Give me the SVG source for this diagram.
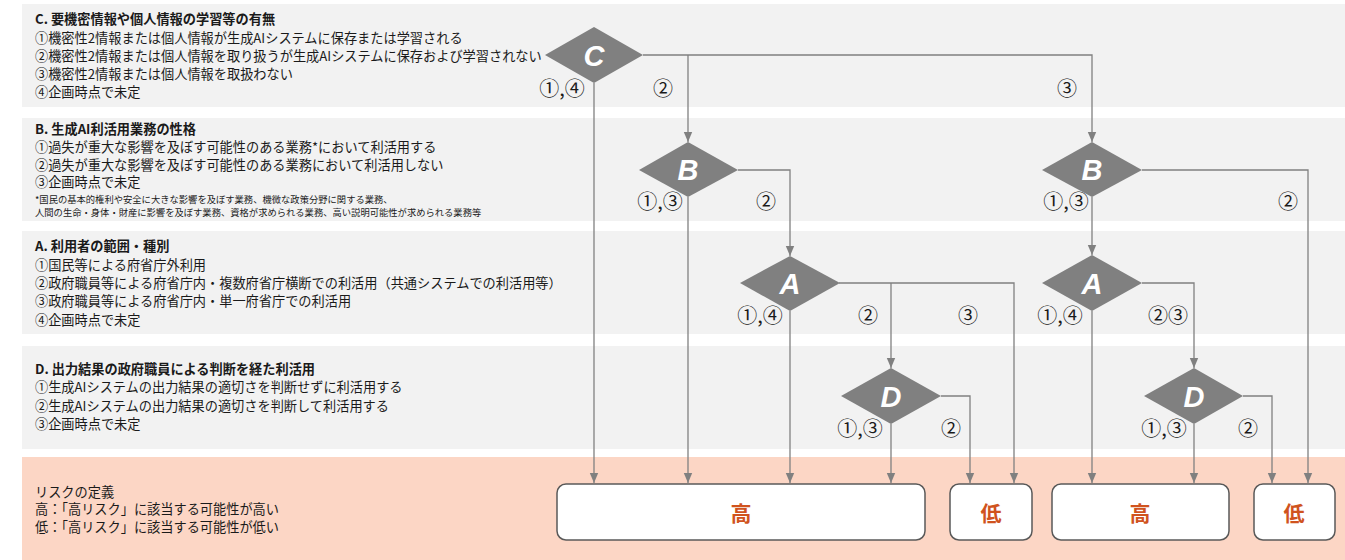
<svg xmlns="http://www.w3.org/2000/svg" width="1345" height="560" viewBox="0 0 1345 560">
<defs>
<marker id="arr" markerUnits="userSpaceOnUse" markerWidth="10" markerHeight="10" viewBox="0 0 10 10" refX="10" refY="5" orient="auto">
<path d="M0,0.8 L10,5 L0,9.2 Z" fill="#808080"/>
</marker>
<style>
.band{fill:#F2F2F2}
.risk{fill:#FCD6C5}
.t{font-family:"Noto Sans CJK JP","Noto Sans",sans-serif;font-size:13.2px;fill:#1a1a1a}
.tb{font-family:"Noto Sans CJK JP","Noto Sans",sans-serif;font-size:13.2px;font-weight:bold;fill:#1a1a1a}
.fn{font-family:"Noto Sans CJK JP","Noto Sans",sans-serif;font-size:9.3px;fill:#1a1a1a}
.lbl{font-family:"Noto Sans CJK JP","Noto Sans",sans-serif;font-size:20px;fill:#1a1a1a;text-anchor:middle;dominant-baseline:central}
.dia{fill:#808080}
.dl{font-family:"Liberation Sans",Arial,sans-serif;font-size:29px;font-weight:bold;font-style:italic;fill:#FFFFFF;text-anchor:middle;dominant-baseline:central}
.box{fill:#FFFFFF;stroke:#595959;stroke-width:1.5}
.bt{font-family:"Noto Sans CJK JP",sans-serif;font-size:21px;font-weight:bold;fill:#D0531E;text-anchor:middle;dominant-baseline:central}
.c{fill:none;stroke:#808080;stroke-width:1.3}
</style>
</defs>

<g id="bands">
<rect class="band" x="22" y="4" width="1323" height="103"/>
<rect class="band" x="22" y="118" width="1323" height="103"/>
<rect class="band" x="22" y="231" width="1323" height="103"/>
<rect class="band" x="22" y="346" width="1323" height="103"/>
<rect class="risk" x="22" y="457" width="1323" height="103"/>
</g>

<g id="legend-C">
<text class="tb" x="35" y="24">C. 要機密情報や個人情報の学習等の有無</text>
<text class="t" x="35" y="43">①機密性2情報または個人情報が生成AIシステムに保存または学習される</text>
<text class="t" x="35" y="61">②機密性2情報または個人情報を取り扱うが生成AIシステムに保存および学習されない</text>
<text class="t" x="35" y="79">③機密性2情報または個人情報を取扱わない</text>
<text class="t" x="35" y="97">④企画時点で未定</text>
</g>
<g id="legend-B">
<text class="tb" x="35" y="134">B. 生成AI利活用業務の性格</text>
<text class="t" x="35" y="152">①過失が重大な影響を及ぼす可能性のある業務*において利活用する</text>
<text class="t" x="35" y="170">②過失が重大な影響を及ぼす可能性のある業務において利活用しない</text>
<text class="t" x="35" y="187">③企画時点で未定</text>
<text class="fn" x="35" y="203">*国民の基本的権利や安全に大きな影響を及ぼす業務、機微な政策分野に関する業務、</text>
<text class="fn" x="35" y="216">人間の生命・身体・財産に影響を及ぼす業務、資格が求められる業務、高い説明可能性が求められる業務等</text>
</g>
<g id="legend-A">
<text class="tb" x="35" y="251">A.  利用者の範囲・種別</text>
<text class="t" x="35" y="270">①国民等による府省庁外利用</text>
<text class="t" x="35" y="288">②政府職員等による府省庁内・複数府省庁横断での利活用（共通システムでの利活用等）</text>
<text class="t" x="35" y="306">③政府職員等による府省庁内・単一府省庁での利活用</text>
<text class="t" x="35" y="325">④企画時点で未定</text>
</g>
<g id="legend-D">
<text class="tb" x="35" y="374">D. 出力結果の政府職員による判断を経た利活用</text>
<text class="t" x="35" y="392">①生成AIシステムの出力結果の適切さを判断せずに利活用する</text>
<text class="t" x="35" y="411">②生成AIシステムの出力結果の適切さを判断して利活用する</text>
<text class="t" x="35" y="429">③企画時点で未定</text>
</g>
<g id="legend-risk">
<text class="t" x="35" y="497">リスクの定義</text>
<text class="t" x="35" y="514">高：「高リスク」に該当する可能性が高い</text>
<text class="t" x="35" y="532">低：「高リスク」に該当する可能性が低い</text>
</g>

<g id="connectors">
<path class="c" d="M594,83 V483" marker-end="url(#arr)"/>
<path class="c" d="M643,55 H1092 V142" marker-end="url(#arr)"/>
<path class="c" d="M688,55 V142" marker-end="url(#arr)"/>
<path class="c" d="M688,197 V483" marker-end="url(#arr)"/>
<path class="c" d="M738,170 H790 V256" marker-end="url(#arr)"/>
<path class="c" d="M790,311 V483" marker-end="url(#arr)"/>
<path class="c" d="M839,283 H1014 V483" marker-end="url(#arr)"/>
<path class="c" d="M891,283 V368" marker-end="url(#arr)"/>
<path class="c" d="M891,424 V483" marker-end="url(#arr)"/>
<path class="c" d="M941,396 H970 V483" marker-end="url(#arr)"/>
<path class="c" d="M1092,197 V255" marker-end="url(#arr)"/>
<path class="c" d="M1142,170 H1308 V483" marker-end="url(#arr)"/>
<path class="c" d="M1092,311 V483" marker-end="url(#arr)"/>
<path class="c" d="M1142,283 H1194 V368" marker-end="url(#arr)"/>
<path class="c" d="M1194,424 V483" marker-end="url(#arr)"/>
<path class="c" d="M1243,396 H1272 V483" marker-end="url(#arr)"/>
</g>

<g id="labels">
<text class="lbl" x="562" y="87">①,④</text>
<text class="lbl" x="663" y="87">②</text>
<text class="lbl" x="1067" y="87">③</text>
<text class="lbl" x="660" y="200">①,③</text>
<text class="lbl" x="766" y="200">②</text>
<text class="lbl" x="1066" y="200">①,③</text>
<text class="lbl" x="1288" y="200">②</text>
<text class="lbl" x="760" y="314">①,④</text>
<text class="lbl" x="868" y="314">②</text>
<text class="lbl" x="968" y="314">③</text>
<text class="lbl" x="1060" y="314">①,④</text>
<text class="lbl" x="1168" y="314">②③</text>
<text class="lbl" x="860" y="427">①,③</text>
<text class="lbl" x="951" y="427">②</text>
<text class="lbl" x="1164" y="427">①,③</text>
<text class="lbl" x="1248" y="427">②</text>
</g>

<g id="node-C"><polygon class="dia" points="545,55 594,27 643,55 594,83"/><text class="dl" x="594" y="56">C</text></g>
<g id="node-B1"><polygon class="dia" points="639,170 688,142 738,170 688,197"/><text class="dl" x="688" y="170">B</text></g>
<g id="node-A1"><polygon class="dia" points="740,283 790,256 840,283 790,311"/><text class="dl" x="790" y="284">A</text></g>
<g id="node-D1"><polygon class="dia" points="841,396 891,368 941,396 891,424"/><text class="dl" x="891" y="397">D</text></g>
<g id="node-B2"><polygon class="dia" points="1042,170 1092,142 1142,170 1092,197"/><text class="dl" x="1092" y="170">B</text></g>
<g id="node-A2"><polygon class="dia" points="1042,283 1092,255 1142,283 1092,311"/><text class="dl" x="1092" y="284">A</text></g>
<g id="node-D2"><polygon class="dia" points="1144,396 1194,368 1243,396 1194,424"/><text class="dl" x="1194" y="397">D</text></g>

<g id="result-high1"><rect class="box" x="557" y="484" width="368" height="56" rx="9"/><text class="bt" x="741" y="512">高</text></g>
<g id="result-low1"><rect class="box" x="950" y="484" width="82" height="56" rx="9"/><text class="bt" x="991" y="512">低</text></g>
<g id="result-high2"><rect class="box" x="1052" y="484" width="177" height="56" rx="9"/><text class="bt" x="1140" y="512">高</text></g>
<g id="result-low2"><rect class="box" x="1254" y="484" width="81" height="56" rx="9"/><text class="bt" x="1294" y="512">低</text></g>
</svg>
